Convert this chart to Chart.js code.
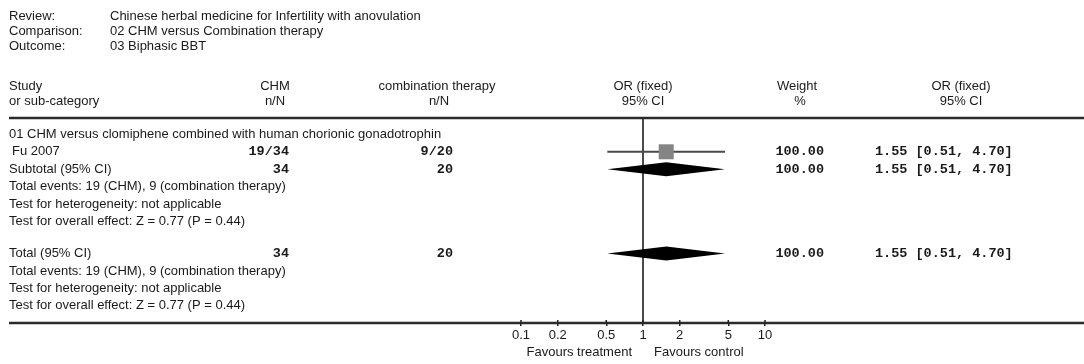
<!DOCTYPE html>
<html>
<head>
<meta charset="utf-8">
<script src="https://cdn.jsdelivr.net/npm/chart.js@4"></script>
<style>
  html, body { margin: 0; padding: 0; background: #fff; }
  #wrap { width: 1084px; height: 364px; }
</style>
</head>
<body>
<div id="wrap"><canvas id="forestChart" width="1084" height="364"></canvas></div>
<script>
// header info
const metaLabels = ['Review:', 'Comparison:', 'Outcome:'];
const metaValues = ['Chinese herbal medicine for Infertility with anovulation', '02 CHM versus Combination therapy', '03 Biphasic BBT'];

// study data
const subgroupTitle = '01 CHM versus clomiphene combined with human chorionic gonadotrophin';
const studies = ['Fu 2007'];
const chmEvents = [19];
const chmTotal = [34];
const ctrlEvents = [9];
const ctrlTotal = [20];
const studyOR = [1.55];
const studyLow = [0.51];
const studyHigh = [4.70];
const studyWeight = [100.00];

// pooled rows (subtotal, total)
const pooledLabels = ['Subtotal (95% CI)', 'Total (95% CI)'];
const pooledChm = [34, 34];
const pooledCtrl = [20, 20];
const pooledOR = [1.55, 1.55];
const pooledLow = [0.51, 0.51];
const pooledHigh = [4.70, 4.70];
const pooledWeight = [100.00, 100.00];
const summaryLines = [
    'Total events: 19 (CHM), 9 (combination therapy)',
    'Test for heterogeneity: not applicable',
    'Test for overall effect: Z = 0.77 (P = 0.44)'
];

const tickValues = [0.1, 0.2, 0.5, 1, 2, 5, 10];

// rows on the y scale
const titleRow = 1;
const studyRow = [2];
const pooledRow = [3, 7.85];
const summaryRow = [4, 8.85];

const SANS = '13px "Liberation Sans", Arial, sans-serif';
const MONO = 'bold 13.5px "Liberation Mono", "Courier New", monospace';
const INK = '#1a1a1a';
const ROW_H = 17.4;
const TOP = 117, BOTTOM = 323;

function fmtCI(or, lo, hi) {
    return or.toFixed(2) + ' [' + lo.toFixed(2) + ', ' + hi.toFixed(2) + ']';
}

function txt(ctx, s, x, y, align, font) {
    ctx.font = font || SANS;
    ctx.textAlign = align || 'left';
    ctx.textBaseline = 'middle';
    ctx.fillStyle = INK;
    ctx.fillText(s, x, y);
}

const forestPlugin = {
    id: 'forest',
    beforeDatasetsDraw(chart) {
        const ctx = chart.ctx;
        const x = chart.scales.x;
        // line of no effect
        ctx.save();
        ctx.strokeStyle = '#1e1e1e';
        ctx.lineWidth = 1.6;
        ctx.beginPath();
        ctx.moveTo(x.getPixelForValue(1), TOP);
        ctx.lineTo(x.getPixelForValue(1), BOTTOM);
        ctx.stroke();
        ctx.restore();
    },
    afterDatasetsDraw(chart) {
        const ctx = chart.ctx;
        const x = chart.scales.x;
        const y = chart.scales.y;
        ctx.save();

        // diamonds
        ctx.fillStyle = '#000';
        pooledOR.forEach(function(or, i) {
            const py = y.getPixelForValue(pooledRow[i]);
            ctx.beginPath();
            ctx.moveTo(x.getPixelForValue(pooledLow[i]), py);
            ctx.lineTo(x.getPixelForValue(or), py - 7);
            ctx.lineTo(x.getPixelForValue(pooledHigh[i]), py);
            ctx.lineTo(x.getPixelForValue(or), py + 7);
            ctx.closePath();
            ctx.fill();
        });

        // header
        metaLabels.forEach(function(l, i) {
            const py = 16 + i * 15;
            txt(ctx, l, 9, py);
            txt(ctx, metaValues[i], 110, py);
        });
        txt(ctx, 'Study', 9, 86);
        txt(ctx, 'or sub-category', 9, 101);
        txt(ctx, 'CHM', 275, 86, 'center');
        txt(ctx, 'n/N', 275, 101, 'center');
        txt(ctx, 'combination therapy', 437, 86, 'center');
        txt(ctx, 'n/N', 439, 101, 'center');
        const cx = x.getPixelForValue(1);
        txt(ctx, 'OR (fixed)', cx, 86, 'center');
        txt(ctx, '95% CI', cx, 101, 'center');
        txt(ctx, 'Weight', 797, 86, 'center');
        txt(ctx, '%', 800, 101, 'center');
        txt(ctx, 'OR (fixed)', 961, 86, 'center');
        txt(ctx, '95% CI', 961, 101, 'center');

        // rules
        ctx.strokeStyle = '#2b2b2b';
        ctx.lineWidth = 2.5;
        ctx.beginPath();
        ctx.moveTo(9, TOP + 1);
        ctx.lineTo(1084, TOP + 1);
        ctx.moveTo(9, BOTTOM);
        ctx.lineTo(1084, BOTTOM);
        ctx.stroke();

        // subgroup
        txt(ctx, subgroupTitle, 9, y.getPixelForValue(titleRow));
        studies.forEach(function(s, i) {
            const py = y.getPixelForValue(studyRow[i]);
            txt(ctx, s, 12, py);
            txt(ctx, chmEvents[i] + '/' + chmTotal[i], 289, py, 'right', MONO);
            txt(ctx, ctrlEvents[i] + '/' + ctrlTotal[i], 453, py, 'right', MONO);
            txt(ctx, studyWeight[i].toFixed(2), 824, py, 'right', MONO);
            txt(ctx, fmtCI(studyOR[i], studyLow[i], studyHigh[i]), 875, py, 'left', MONO);
        });
        pooledLabels.forEach(function(l, i) {
            const py = y.getPixelForValue(pooledRow[i]);
            txt(ctx, l, 9, py);
            txt(ctx, String(pooledChm[i]), 289, py, 'right', MONO);
            txt(ctx, String(pooledCtrl[i]), 453, py, 'right', MONO);
            txt(ctx, pooledWeight[i].toFixed(2), 824, py, 'right', MONO);
            txt(ctx, fmtCI(pooledOR[i], pooledLow[i], pooledHigh[i]), 875, py, 'left', MONO);
            summaryLines.forEach(function(line, k) {
                txt(ctx, line, 9, y.getPixelForValue(summaryRow[i] + k));
            });
        });

        // tick marks crossing the axis
        ctx.strokeStyle = '#222';
        ctx.lineWidth = 1.5;
        ctx.beginPath();
        tickValues.forEach(function(v) {
            const px = x.getPixelForValue(v);
            ctx.moveTo(px, BOTTOM - 3);
            ctx.lineTo(px, BOTTOM);
        });
        ctx.stroke();

        // favours labels
        txt(ctx, 'Favours treatment', cx - 11, 352, 'right');
        txt(ctx, 'Favours control', cx + 11, 352, 'left');
        ctx.restore();
    }
};

const ctx = document.getElementById('forestChart').getContext('2d');
const forestChart = new Chart(ctx, {
    type: 'scatter',
    data: {
        datasets: [
            {
                label: 'OR',
                data: studies.map(function(s, i) { return { x: studyOR[i], y: studyRow[i] }; }),
                pointStyle: 'rect',
                pointRadius: 10.6,
                pointHoverRadius: 10.6,
                backgroundColor: '#848484',
                borderColor: '#848484',
                borderWidth: 0,
                order: 0
            },
            {
                label: 'CI',
                type: 'line',
                data: [{ x: studyLow[0], y: studyRow[0] }, { x: studyHigh[0], y: studyRow[0] }],
                borderColor: '#4a4a4a',
                borderWidth: 2,
                pointRadius: 0,
                fill: false,
                order: 1
            }
        ]
    },
    options: {
        responsive: false,
        animation: false,
        events: [],
        layout: { padding: { left: 521, right: 319, top: TOP, bottom: 0 } },
        plugins: {
            legend: { display: false },
            tooltip: { enabled: false }
        },
        scales: {
            x: {
                type: 'logarithmic',
                min: 0.1,
                max: 10,
                afterBuildTicks: function(scale) {
                    scale.ticks = tickValues.map(function(v) { return { value: v }; });
                },
                afterFit: function(scale) { scale.height = 364 - BOTTOM; },
                ticks: {
                    autoSkip: false,
                    maxRotation: 0,
                    padding: 2,
                    color: INK,
                    font: { family: '"Liberation Sans", Arial, sans-serif', size: 13 },
                    callback: function(v) { return String(v); }
                },
                grid: { drawOnChartArea: false, tickLength: 3, color: '#222', lineWidth: 1.5 },
                border: { display: false }
            },
            y: {
                type: 'linear',
                reverse: true,
                min: 0,
                max: (BOTTOM - TOP) / ROW_H,
                display: false
            }
        }
    },
    plugins: [forestPlugin]
});
</script>
</body>
</html>
